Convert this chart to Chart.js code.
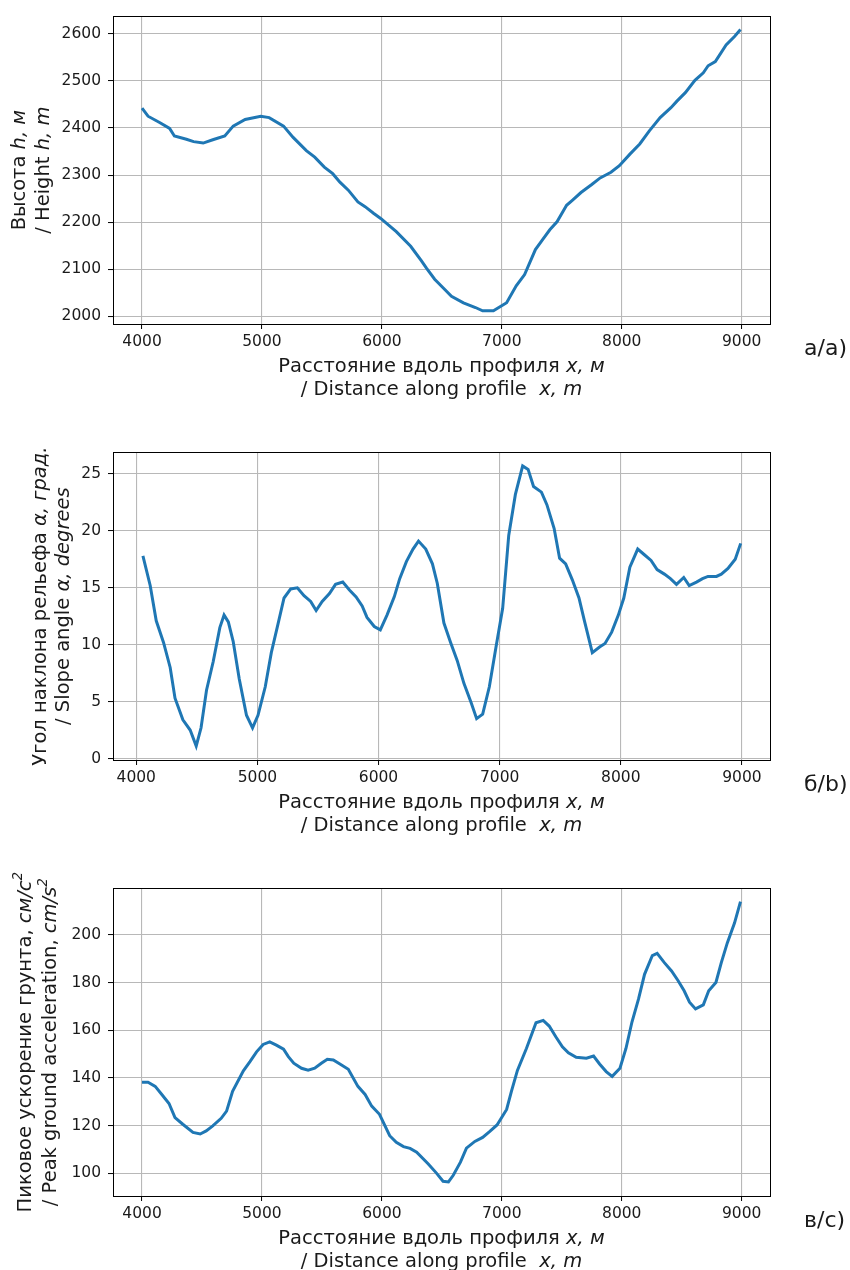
<!DOCTYPE html>
<html>
<head>
<meta charset="utf-8">
<script src="https://cdn.jsdelivr.net/npm/chart.js@4"></script>
<style>
  html, body { margin: 0; padding: 0; background: #fff; overflow: hidden; width: 850px; height: 1270px; }
  .panel { position: absolute; left: 0; width: 850px; height: 436px; }
</style>
</head>
<body>
<div class="panel" style="top:0px"><canvas id="c1" width="850" height="436"></canvas></div>
<div class="panel" style="top:436px"><canvas id="c2" width="850" height="436"></canvas></div>
<div class="panel" style="top:872px"><canvas id="c3" width="850" height="436"></canvas></div>
<script>
const xTicks = [4000, 5000, 6000, 7000, 8000, 9000];

// а) высота
const distH = [4000,4050,4150,4230,4270,4370,4430,4510,4590,4690,4760,4860,4990,5060,5180,5260,5370,5440,5520,5590,5650,5720,5800,5860,5930,5990,6120,6240,6330,6370,6440,6510,6580,6680,6780,6840,6930,7040,7120,7190,7280,7340,7400,7460,7540,7590,7660,7750,7820,7910,7980,8070,8150,8230,8320,8410,8460,8530,8610,8680,8720,8780,8870,8940,8990];
const heightM = [2442,2425,2411,2399,2383,2376,2371,2368,2375,2383,2404,2418,2425,2422,2404,2380,2352,2338,2317,2303,2285,2268,2243,2233,2219,2208,2180,2149,2118,2103,2079,2061,2043,2029,2019,2012,2012,2029,2065,2089,2142,2163,2184,2201,2236,2247,2263,2280,2294,2306,2320,2345,2366,2394,2422,2443,2457,2475,2501,2517,2532,2541,2576,2594,2609];
const hTicks = [2000, 2100, 2200, 2300, 2400, 2500, 2600];

// б) угол наклона
const distSlope = [4055,4115,4165,4225,4280,4320,4385,4445,4495,4535,4580,4635,4690,4725,4760,4800,4850,4910,4960,5005,5065,5115,5170,5220,5275,5330,5385,5440,5485,5535,5595,5645,5705,5760,5815,5865,5905,5965,6015,6070,6130,6175,6230,6285,6330,6390,6445,6485,6540,6595,6650,6705,6765,6810,6860,6915,6970,7025,7075,7130,7190,7235,7280,7345,7390,7450,7495,7545,7600,7655,7700,7765,7825,7870,7925,7980,8025,8075,8140,8195,8250,8300,8360,8410,8460,8520,8565,8625,8675,8720,8790,8830,8885,8945,8990];
const slopeDeg = [17.8,15.2,12.1,10.2,8.0,5.3,3.4,2.5,1.1,2.7,6.0,8.5,11.5,12.6,12.0,10.3,7.0,3.8,2.7,3.8,6.3,9.3,11.8,14.1,14.9,15.0,14.3,13.8,13.0,13.8,14.5,15.3,15.5,14.8,14.2,13.4,12.4,11.6,11.3,12.6,14.2,15.8,17.3,18.4,19.1,18.4,17.1,15.4,11.9,10.2,8.6,6.6,4.9,3.5,3.9,6.3,9.8,13.2,19.6,23.2,25.7,25.4,23.9,23.4,22.3,20.2,17.6,17.1,15.7,14.1,12.1,9.3,9.8,10.1,11.1,12.6,14.1,16.8,18.4,17.9,17.4,16.6,16.2,15.8,15.3,15.9,15.2,15.5,15.8,16.0,16.0,16.2,16.7,17.5,18.9];
const slopeTicks = [0, 5, 10, 15, 20, 25];

// в) пиковое ускорение
const distPga = [4000,4050,4110,4165,4225,4275,4340,4425,4485,4535,4590,4660,4705,4755,4845,4900,4955,5010,5065,5120,5180,5220,5265,5330,5385,5440,5495,5545,5595,5650,5720,5800,5860,5915,5980,6065,6120,6180,6235,6290,6385,6455,6510,6555,6595,6655,6705,6775,6840,6900,6960,7040,7080,7130,7205,7285,7345,7395,7450,7505,7555,7620,7705,7765,7815,7870,7920,7985,8035,8085,8140,8190,8255,8295,8355,8415,8470,8520,8565,8615,8680,8725,8785,8830,8880,8940,8990];
const pgaCm = [138.2,138.2,136.5,133.1,129.3,123.4,120.6,117.2,116.5,117.8,119.9,123.1,126.1,134.4,143.0,146.9,151.0,154.1,155.2,153.8,152.1,149.0,146.2,144.1,143.3,144.1,146.2,147.9,147.6,145.9,143.7,136.5,133.1,128.2,124.8,115.8,113.0,111.2,110.5,108.9,104.0,100.1,96.7,96.4,99.2,104.7,110.6,113.4,115.1,117.6,120.3,126.8,134.4,143.2,152.4,163.2,164.2,161.8,157.3,153.1,150.6,148.7,148.3,149.2,145.9,142.7,140.7,144.1,152.4,163.5,173.2,183.5,191.4,192.3,188.4,184.9,180.8,176.6,171.8,169.0,170.7,176.6,180.1,188.4,196.7,205.0,214.0];
const pgaTicks = [100, 120, 140, 160, 180, 200];

const FONT = '"DejaVu Sans", Verdana, sans-serif';
const BLUE = '#1f77b4';
const TITLE_SIZE = 19.5;

// текст с курсивом и верхним индексом
function drawRich(ctx, segs, cx, cy, rot) {
  ctx.save();
  ctx.translate(cx, cy);
  ctx.rotate(rot);
  ctx.textBaseline = 'middle';
  ctx.textAlign = 'left';
  ctx.fillStyle = '#1a1a1a';
  const fontOf = s => (s.i ? 'italic ' : '') + (s.sup ? 13.5 : TITLE_SIZE) + 'px ' + FONT;
  let total = 0;
  segs.forEach(s => { ctx.font = fontOf(s); total += ctx.measureText(s.t).width; });
  let x = -total / 2;
  segs.forEach(s => {
    ctx.font = fontOf(s);
    ctx.fillText(s.t, x, s.sup ? -8 : 0);
    x += ctx.measureText(s.t).width;
  });
  ctx.restore();
}

const xTitle1 = [{ t: 'Расстояние вдоль профиля ' }, { t: 'x, м', i: true }];
const xTitle2 = [{ t: '/ Distance along profile  ' }, { t: 'x, m', i: true }];

const decor = {
  id: 'decor',
  afterDraw(chart, args, o) {
    const ctx = chart.ctx, a = chart.chartArea;
    ctx.save();
    ctx.strokeStyle = '#000';
    ctx.lineWidth = 1;
    ctx.strokeRect(Math.round(a.left) + 0.5, Math.round(a.top) + 0.5, Math.round(a.right - a.left), Math.round(a.bottom - a.top));
    ctx.restore();
    const cx = (a.left + a.right) / 2;
    drawRich(ctx, xTitle1, cx, 367, 0);
    drawRich(ctx, xTitle2, cx, 390, 0);
    const cy = (a.top + a.bottom) / 2;
    drawRich(ctx, o.y1, o.yx1, cy, -Math.PI / 2);
    drawRich(ctx, o.y2, o.yx2, cy, -Math.PI / 2);
    ctx.save();
    ctx.font = '22px ' + FONT;
    ctx.fillStyle = '#1a1a1a';
    ctx.textBaseline = 'middle';
    ctx.fillText(o.tag, 804, 349);
    ctx.restore();
  }
};

function makePanel(id, xs, ys, yTicks, xMin, xMax, yMin, yMax, deco) {
  const points = xs.map((x, i) => ({ x: x, y: ys[i] }));
  return new Chart(document.getElementById(id), {
    type: 'line',
    data: {
      datasets: [{
        data: points,
        borderColor: BLUE,
        borderWidth: 3,
        pointRadius: 0,
        tension: 0,
        fill: false,
      }],
    },
    options: {
      responsive: false,
      animation: false,
      layout: { padding: { left: 0, right: 80, top: 13, bottom: 0 } },
      plugins: { legend: { display: false }, tooltip: { enabled: false }, decor: deco },
      scales: {
        x: {
          type: 'linear',
          min: xMin,
          max: xMax,
          afterBuildTicks: s => { s.ticks = xTicks.map(v => ({ value: v })); },
          afterFit: s => { s.height = 112; },
          grid: { color: '#b8b8b8', lineWidth: 1.1, tickLength: 5, tickColor: '#000', tickWidth: 1 },
          border: { display: false },
          ticks: { font: { family: FONT, size: 15.5 }, color: '#1a1a1a', padding: 4, maxRotation: 0, autoSkip: false, callback: v => String(v) },
        },
        y: {
          type: 'linear',
          min: yMin,
          max: yMax,
          afterBuildTicks: s => { s.ticks = yTicks.map(v => ({ value: v })); },
          afterFit: s => { s.width = 113; },
          grid: { color: '#b8b8b8', lineWidth: 1.1, tickLength: 5, tickColor: '#000', tickWidth: 1 },
          border: { display: false },
          ticks: { font: { family: FONT, size: 15.5 }, color: '#1a1a1a', padding: 7, autoSkip: false, callback: v => String(v) },
        },
      },
    },
    plugins: [decor],
  });
}

makePanel('c1', distH, heightM, hTicks, 3758, 9236, 1984, 2637, {
  y1: [{ t: 'Высота ' }, { t: 'h, м', i: true }],
  y2: [{ t: '/ Height ' }, { t: 'h, m', i: true }],
  yx1: 20, yx2: 44, tag: 'а/а)',
});

makePanel('c2', distSlope, slopeDeg, slopeTicks, 3808, 9232, -0.13, 26.9, {
  y1: [{ t: 'Угол наклона рельефа ' }, { t: 'α, град.', i: true }],
  y2: [{ t: '/ Slope angle ' }, { t: 'α, degrees', i: true }],
  yx1: 41, yx2: 64, tag: 'б/b)',
});

makePanel('c3', distPga, pgaCm, pgaTicks, 3758, 9236, 90.5, 219.6, {
  y1: [{ t: 'Пиковое ускорение грунта, ' }, { t: 'см/с', i: true }, { t: '2', i: true, sup: true }],
  y2: [{ t: '/ Peak ground acceleration, ' }, { t: 'cm/s', i: true }, { t: '2', i: true, sup: true }],
  yx1: 26, yx2: 51, tag: 'в/с)',
});
</script>
</body>
</html>
